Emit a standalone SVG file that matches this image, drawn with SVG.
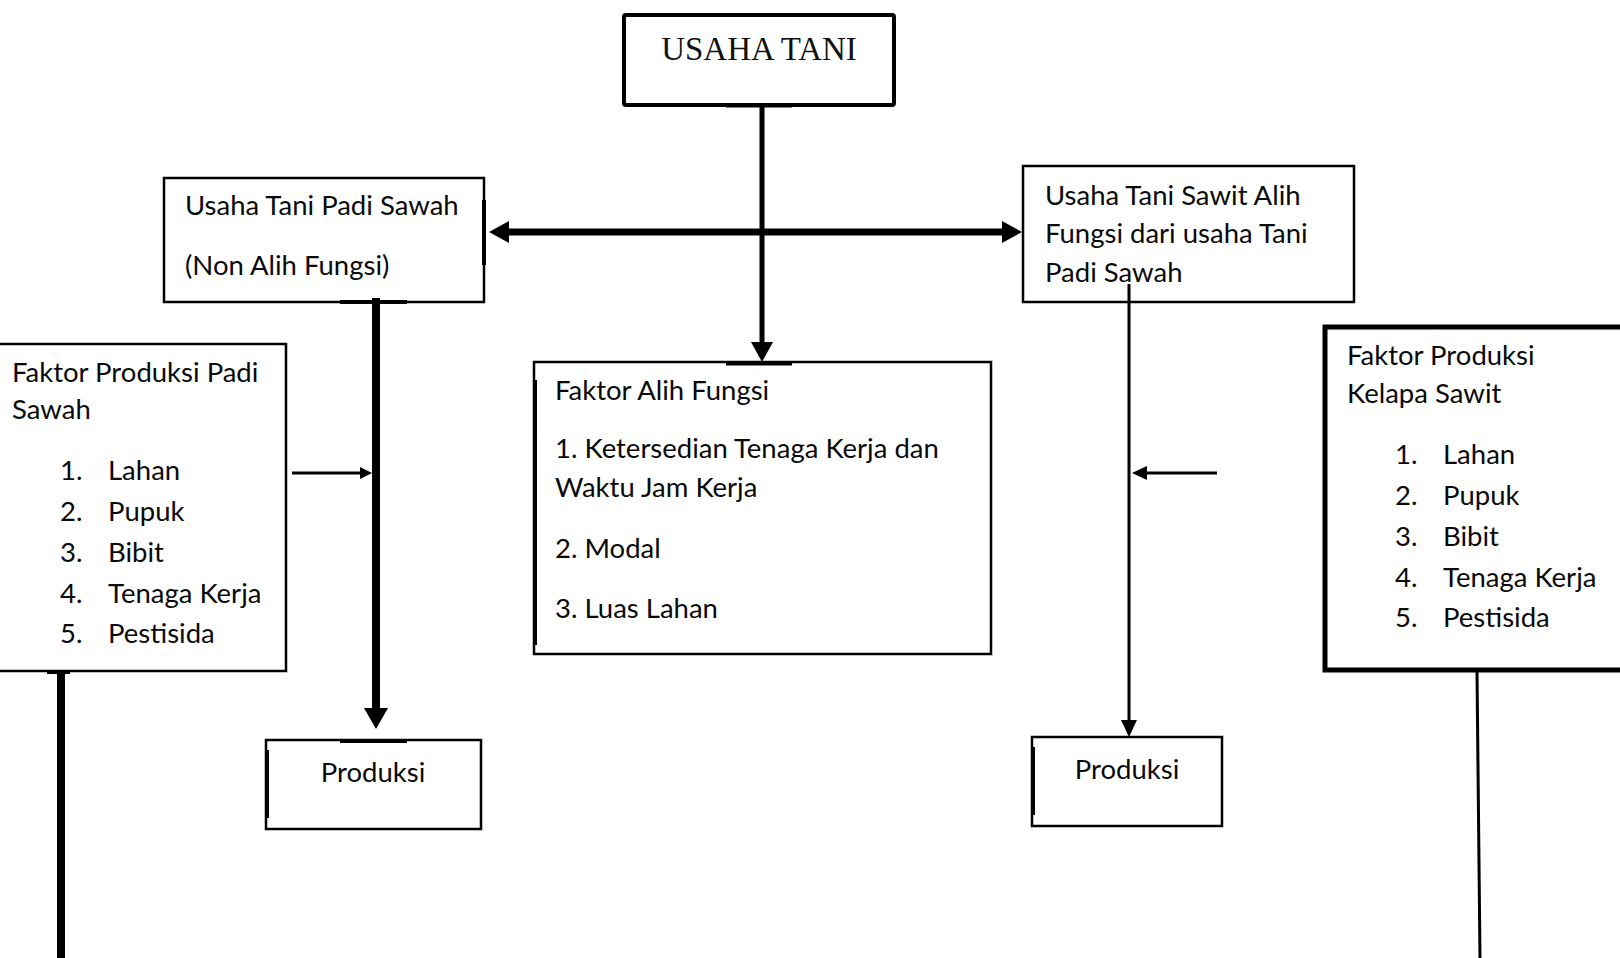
<svg xmlns="http://www.w3.org/2000/svg" width="1620" height="958" viewBox="0 0 1620 958">
<style>
  .box { fill: #fff; stroke: #000; stroke-width: 2.5; }
  .t { font-family: Lato, "Open Sans", sans-serif; font-size: 27.5px; fill: #0a0a0a; }
  .serif { font-family: "Liberation Serif", "Times New Roman", serif; font-size: 33px; fill: #111; }
  .ln { stroke: #000; fill: none; }
  .ah { fill: #000; }
</style>
<rect width="1620" height="958" fill="#fff"/>

<g id="usaha-tani">
  <rect x="624" y="15" width="270" height="90" fill="#fff" stroke="#000" stroke-width="4" rx="2"/>
  <text class="serif" x="759" y="60" text-anchor="middle">USAHA TANI</text>
</g>

<g id="padi-sawah">
  <rect class="box" x="164" y="178" width="320" height="124"/>
  <line class="ln" x1="484" y1="200" x2="484" y2="265" stroke-width="4"/>
  <text class="t" x="185" y="215">Usaha Tani Padi Sawah</text>
  <text class="t" x="185" y="275">(Non Alih Fungsi)</text>
</g>

<g id="sawit-alih-fungsi">
  <rect class="box" x="1023" y="166" width="331" height="136"/>
  <text class="t" x="1045" y="205">Usaha Tani Sawit Alih</text>
  <text class="t" x="1045" y="243">Fungsi dari usaha Tani</text>
  <text class="t" x="1045" y="282">Padi Sawah</text>
</g>

<g id="faktor-padi">
  <rect class="box" x="-5" y="344" width="291" height="327"/>
  <text class="t" x="12" y="382">Faktor Produksi Padi</text>
  <text class="t" x="12" y="419">Sawah</text>
  <text class="t" x="60" y="480">1.</text><text class="t" x="108" y="480">Lahan</text>
  <text class="t" x="60" y="521">2.</text><text class="t" x="108" y="521">Pupuk</text>
  <text class="t" x="60" y="562">3.</text><text class="t" x="108" y="562">Bibit</text>
  <text class="t" x="60" y="603">4.</text><text class="t" x="108" y="603">Tenaga Kerja</text>
  <text class="t" x="60" y="643">5.</text><text class="t" x="108" y="643">Pestisida</text>
</g>

<g id="faktor-alih-fungsi">
  <rect class="box" x="534" y="362" width="457" height="292"/>
  <line class="ln" x1="535" y1="380" x2="535" y2="645" stroke-width="4"/>
  <text class="t" x="555" y="400">Faktor Alih Fungsi</text>
  <text class="t" x="555" y="458">1. Ketersedian Tenaga Kerja dan</text>
  <text class="t" x="555" y="497">Waktu Jam Kerja</text>
  <text class="t" x="555" y="558">2. Modal</text>
  <text class="t" x="555" y="618">3. Luas Lahan</text>
</g>

<g id="faktor-sawit">
  <rect x="1325" y="327" width="300" height="343" fill="#fff" stroke="#000" stroke-width="5"/>
  <text class="t" x="1347" y="365">Faktor Produksi</text>
  <text class="t" x="1347" y="403">Kelapa Sawit</text>
  <text class="t" x="1395" y="464">1.</text><text class="t" x="1443" y="464">Lahan</text>
  <text class="t" x="1395" y="505">2.</text><text class="t" x="1443" y="505">Pupuk</text>
  <text class="t" x="1395" y="546">3.</text><text class="t" x="1443" y="546">Bibit</text>
  <text class="t" x="1395" y="587">4.</text><text class="t" x="1443" y="587">Tenaga Kerja</text>
  <text class="t" x="1395" y="627">5.</text><text class="t" x="1443" y="627">Pestisida</text>
</g>

<g id="produksi-padi">
  <rect class="box" x="266" y="740" width="215" height="89"/>
  <line class="ln" x1="267" y1="750" x2="267" y2="818" stroke-width="4"/>
  <text class="t" x="373" y="782" text-anchor="middle">Produksi</text>
</g>

<g id="produksi-sawit">
  <rect class="box" x="1032" y="737" width="190" height="89"/>
  <line class="ln" x1="1033" y1="747" x2="1033" y2="815" stroke-width="4"/>
  <text class="t" x="1127" y="779" text-anchor="middle">Produksi</text>
</g>

<g id="connectors">
  <line class="ln" x1="762" y1="105" x2="762" y2="345" stroke-width="5"/>
  <polygon class="ah" points="751,342 773,342 762,362"/>
  <line class="ln" x1="726" y1="364" x2="792" y2="364" stroke-width="3"/>
  <line class="ln" x1="726" y1="106" x2="792" y2="106" stroke-width="3"/>
  <line class="ln" x1="505" y1="232" x2="1005" y2="232" stroke-width="7"/>
  <polygon class="ah" points="489,232 509,221 509,243"/>
  <polygon class="ah" points="1022,232 1002,221 1002,243"/>
  <line class="ln" x1="376" y1="298" x2="376" y2="712" stroke-width="8"/>
  <line class="ln" x1="340" y1="302" x2="407" y2="302" stroke-width="4"/>
  <polygon class="ah" points="364,708 388,708 376,729"/>
  <line class="ln" x1="340" y1="741" x2="407" y2="741" stroke-width="4"/>
  <line class="ln" x1="292" y1="473" x2="362" y2="473" stroke-width="3"/>
  <polygon class="ah" points="372,473 360,467 360,479"/>
  <line class="ln" x1="1129" y1="284" x2="1129" y2="722" stroke-width="3"/>
  <polygon class="ah" points="1121,720 1137,720 1129,737"/>
  <line class="ln" x1="1217" y1="473" x2="1145" y2="473" stroke-width="3"/>
  <polygon class="ah" points="1132,473 1147,466 1147,480"/>
  <line class="ln" x1="61" y1="671" x2="61" y2="958" stroke-width="8"/>
  <line class="ln" x1="47" y1="672" x2="70" y2="672" stroke-width="4"/>
  <line class="ln" x1="1477" y1="672" x2="1480" y2="958" stroke-width="3"/>
</g>
</svg>
